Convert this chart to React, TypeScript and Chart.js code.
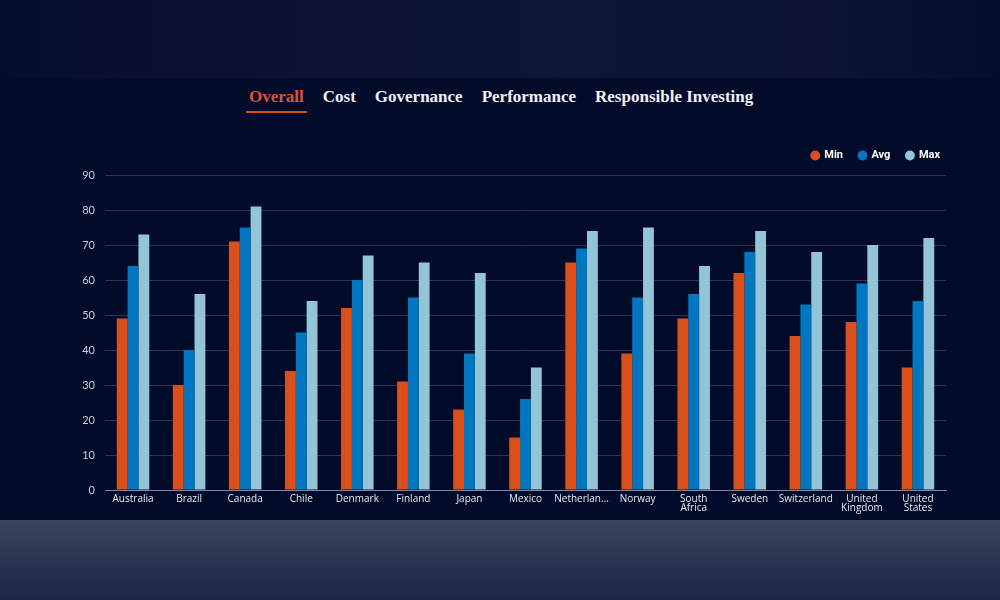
import React, { useEffect, useRef } from "react";
import { Chart, registerables } from "chart.js";

Chart.register(...registerables);

const categories: (string | string[])[] = [
  "Australia", "Brazil", "Canada", "Chile", "Denmark", "Finland", "Japan", "Mexico",
  "Netherlan...", "Norway", ["South", "Africa"], "Sweden", "Switzerland",
  ["United", "Kingdom"], ["United", "States"],
];
const minValues = [49, 30, 71, 34, 52, 31, 23, 15, 65, 39, 49, 62, 44, 48, 35];
const avgValues = [64, 40, 75, 45, 60, 55, 39, 26, 69, 55, 56, 68, 53, 59, 54];
const maxValues = [73, 56, 81, 54, 67, 65, 62, 35, 74, 75, 64, 74, 68, 70, 72];
const tabs = ["Overall", "Cost", "Governance", "Performance", "Responsible Investing"];

const legendTweak = {
  id: "legendTweak",
  afterInit(chart: any) {
    const lg = chart.legend;
    if (!lg) return;
    const orig = lg.fit;
    lg.fit = function (this: any) {
      orig.call(this);
      this.height += 4;
    };
  },
  afterLayout(chart: any) {
    const lg = chart.legend;
    if (!lg) return;
    lg.left += 10;
    lg.right += 10;
  },
};

export default function App() {
  const ref = useRef<HTMLCanvasElement | null>(null);

  useEffect(() => {
    if (!ref.current) return;
    const chart = new Chart(ref.current, {
      type: "bar",
      data: {
        labels: categories,
        datasets: [
          { label: "Min", data: minValues, backgroundColor: "#d9501d" },
          { label: "Avg", data: avgValues, backgroundColor: "#0077c0" },
          { label: "Max", data: maxValues, backgroundColor: "#93c5d6" },
        ],
      },
      plugins: [legendTweak],
      options: {
        animation: false,
        responsive: false,
        maintainAspectRatio: false,
        datasets: { bar: { categoryPercentage: 0.58, barPercentage: 1.0 } },
        layout: { padding: { left: 65, right: 54, top: 4, bottom: 0 } },
        plugins: {
          tooltip: { enabled: false },
          legend: {
            position: "top",
            align: "end",
            labels: {
              usePointStyle: true,
              pointStyle: "circle",
              boxWidth: 7,
              boxHeight: 7,
              color: "#ffffff",
              padding: 16,
              font: { family: "Roboto, 'Liberation Sans', sans-serif", size: 11, weight: "bold" },
            },
          },
        },
        scales: {
          x: {
            grid: { display: false, drawTicks: false },
            border: { display: true, color: "#7a88a6", width: 1 },
            ticks: {
              color: "#e6e9f0",
              padding: 4,
              maxRotation: 0,
              autoSkip: false,
              font: { family: "'Open Sans', sans-serif", size: 10, lineHeight: 0.95 },
            },
            afterFit: (s: any) => { s.height = 30; },
          },
          y: {
            min: 0,
            max: 90,
            ticks: {
              stepSize: 10,
              color: "#c9cdd8",
              padding: 10,
              font: { family: "Lato, 'Open Sans', sans-serif", size: 11 },
            },
            grid: { color: "#2b3652", lineWidth: 1, drawTicks: false },
            border: { display: false },
            afterFit: (s: any) => { s.width = 40; },
          },
        },
      },
    });
    return () => chart.destroy();
  }, []);

  return (
    <div
      style={{
        position: "fixed",
        left: 0,
        top: 0,
        width: 1000,
        height: 600,
        overflow: "hidden",
        background: "#030b2b",
      }}
    >
      <div
        style={{
          position: "absolute",
          left: 0,
          top: 0,
          width: 1000,
          height: 78,
          background: "linear-gradient(90deg, #050d2e 0%, #0d1232 30%, #0c1636 55%, #0d1434 80%, #050d2e 100%)",
        }}
      />
      <div
        style={{
          position: "absolute",
          left: 0,
          top: 78,
          width: 1000,
          height: 442,
          background: "#030b2b",
        }}
      />
      <div
        style={{
          position: "absolute",
          left: 0,
          top: 520,
          width: 1000,
          height: 80,
          background: "linear-gradient(180deg, #3b4560 0%, #2e3752 40%, #1d2546 100%)",
        }}
      />
      <div
        style={{
          position: "absolute",
          left: 249,
          top: 85,
          display: "flex",
          gap: 19,
          fontFamily: "'Liberation Serif', serif",
          fontWeight: "bold",
          fontSize: 17,
          whiteSpace: "nowrap",
        }}
      >
        {tabs.map((t, i) => (
          <div
            key={t}
            style={{
              color: i === 0 ? "#e0532a" : "#eef0f5",
              position: "relative",
              lineHeight: "23px",
            }}
          >
            {t}
            {i === 0 && (
              <div
                style={{
                  position: "absolute",
                  left: -3,
                  right: -3,
                  top: 26,
                  height: 2,
                  background: "#d9501d",
                }}
              />
            )}
          </div>
        ))}
      </div>
      <canvas
        ref={ref}
        width={1000}
        height={390}
        style={{ position: "absolute", left: 0, top: 130, width: 1000, height: 390 }}
      />
    </div>
  );
}
